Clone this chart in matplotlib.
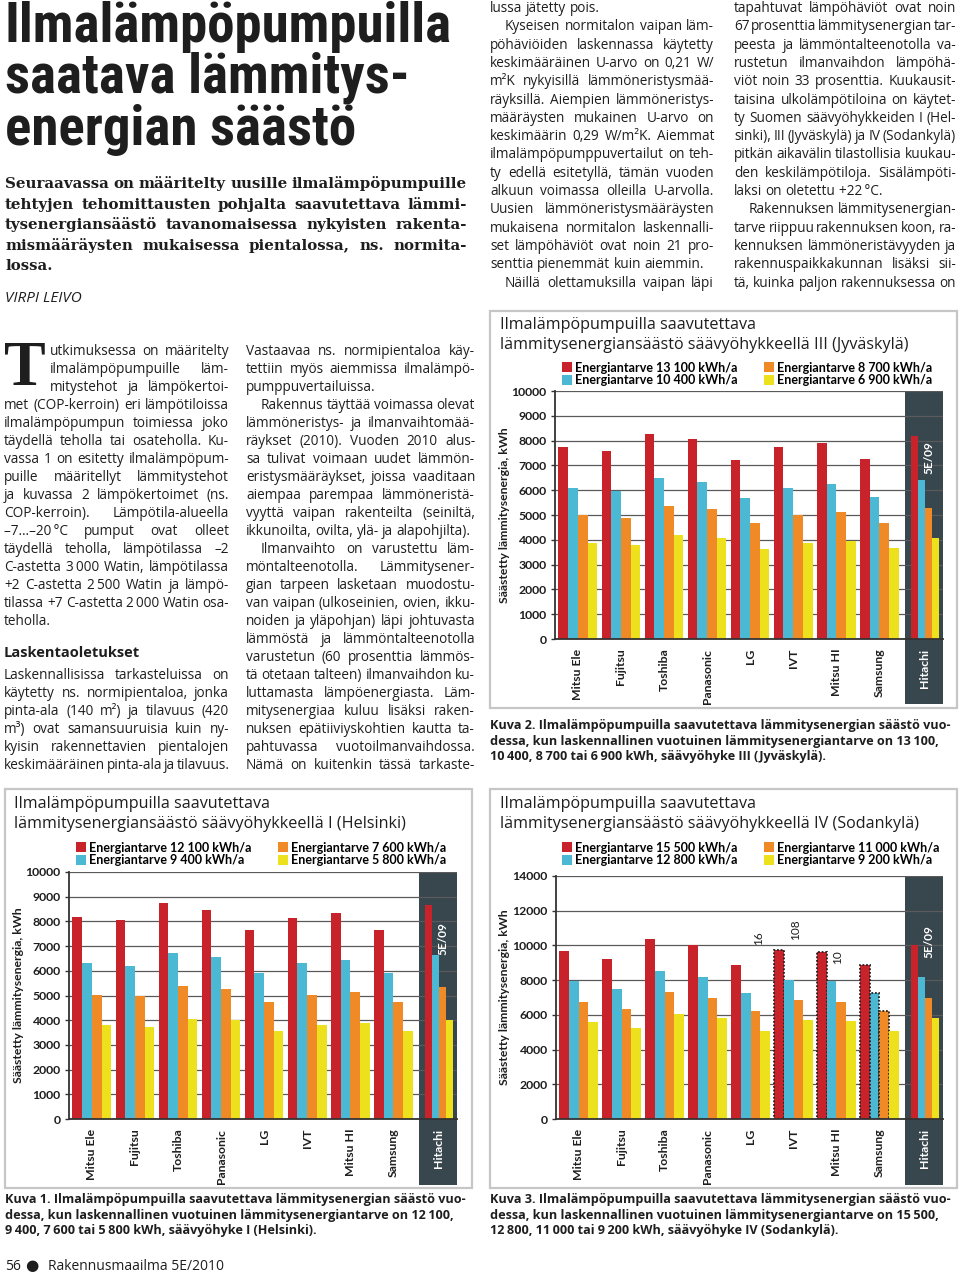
import numpy as np
import matplotlib
matplotlib.use("Agg")
import matplotlib.pyplot as plt
import matplotlib.transforms as mtransforms
from matplotlib import font_manager
from matplotlib.patches import Rectangle

# ---- data -------------------------------------------------------------
brands = ["Mitsu Ele", "Fujitsu", "Toshiba", "Panasonic", "LG", "IVT",
          "Mitsu HI", "Samsung", "Hitachi"]

# Kuva 1, Helsinki
hel_12100 = [8175, 8040, 8725, 8480, 7650, 8150, 8350, 7650, 8645]
hel_9400 = [6310, 6200, 6710, 6550, 5900, 6310, 6440, 5900, 6640]
hel_7600 = [5025, 4975, 5400, 5270, 4720, 5025, 5160, 4720, 5350]
hel_5800 = [3800, 3720, 4040, 3990, 3545, 3800, 3890, 3545, 3990]
hel_labels = ["Energiantarve 12 100 kWh/a", "Energiantarve 9 400 kWh/a",
              "Energiantarve 7 600 kWh/a", "Energiantarve 5 800 kWh/a"]

# Kuva 2, Jyväskylä
jyv_13100 = [7730, 7600, 8270, 8080, 7215, 7730, 7890, 7245, 8190]
jyv_10400 = [6070, 5985, 6510, 6350, 5680, 6095, 6230, 5720, 6400]
jyv_8700 = [5000, 4890, 5380, 5240, 4660, 5000, 5120, 4660, 5280]
jyv_6900 = [3865, 3810, 4175, 4080, 3620, 3880, 3950, 3650, 4080]
jyv_labels = ["Energiantarve 13 100 kWh/a", "Energiantarve 10 400 kWh/a",
              "Energiantarve 8 700 kWh/a", "Energiantarve 6 900 kWh/a"]

# Kuva 3, Sodankylä
sod_15500 = [9700, 9200, 10350, 10000, 8850, 9750, 9650, 8850, 10050]
sod_12800 = [7950, 7500, 8500, 8200, 7250, 8000, 7950, 7250, 8200]
sod_11000 = [6750, 6350, 7300, 7000, 6200, 6850, 6750, 6200, 6950]
sod_9200 = [5600, 5250, 6050, 5800, 5050, 5700, 5650, 5050, 5800]
sod_labels = ["Energiantarve 15 500 kWh/a", "Energiantarve 12 800 kWh/a",
              "Energiantarve 11 000 kWh/a", "Energiantarve 9 200 kWh/a"]
# stray marks printed in the Sodankylä chart: (x, y, text)
sod_notes = [(4.63, 10430, "16"), (5.49, 10890, "108"), (6.47, 9330, "10")]
# bars with a dotted outline (group, series)
sod_marked = [(5, 0), (6, 0), (7, 0), (7, 1), (7, 2)]

headline = ["Ilmalämpöpumpuilla", "saatava lämmitys-", "energian säästö"]
lead = ["Seuraavassa on määritelty uusille ilmalämpöpumpuille",
        "tehtyjen tehomittausten pohjalta saavutettava lämmi-",
        "tysenergiansäästö tavanomaisessa nykyisten rakenta-",
        "mismääräysten mukaisessa pientalossa, ns. normita-",
        "lossa."]

col1 = ["utkimuksessa on määritelty",
        "ilmalämpöpumpuille läm-",
        "mitystehot ja lämpökertoi-",
        "met (COP-kerroin) eri lämpötiloissa",
        "ilmalämpöpumpun toimiessa joko",
        "täydellä teholla tai osateholla. Ku-",
        "vassa 1 on esitetty ilmalämpöpum-",
        "puille määritellyt lämmitystehot",
        "ja kuvassa 2 lämpökertoimet (ns.",
        "COP-kerroin). Lämpötila-alueella",
        "–7…–20\u2009°C pumput ovat olleet",
        "täydellä teholla, lämpötilassa –2",
        "C-astetta 3\u2009000 Watin, lämpötilassa",
        "+2 C-astetta 2\u2009500 Watin ja lämpö-",
        "tilassa +7 C-astetta 2\u2009000 Watin osa-",
        "teholla."]
col1b = ["Laskennallisissa tarkasteluissa on",
         "käytetty ns. normipientaloa, jonka",
         "pinta-ala (140 m²) ja tilavuus (420",
         "m³) ovat samansuuruisia kuin ny-",
         "kyisin rakennettavien pientalojen",
         "keskimääräinen pinta-ala ja tilavuus."]
col2 = ["Vastaavaa ns. normipientaloa käy-",
        "tettiin myös aiemmissa ilmalämpö-",
        "pumppuvertailuissa.",
        ">Rakennus täyttää voimassa olevat",
        "lämmöneristys- ja ilmanvaihtomää-",
        "räykset (2010). Vuoden 2010 alus-",
        "sa tulivat voimaan uudet lämmön-",
        "eristysmääräykset, joissa vaaditaan",
        "aiempaa parempaa lämmöneristä-",
        "vyyttä vaipan rakenteilta (seiniltä,",
        "ikkunoilta, ovilta, ylä- ja alapohjilta).",
        ">Ilmanvaihto on varustettu läm-",
        "möntalteenotolla. Lämmitysener-",
        "gian tarpeen lasketaan muodostu-",
        "van vaipan (ulkoseinien, ovien, ikku-",
        "noiden ja yläpohjan) läpi johtuvasta",
        "lämmöstä ja lämmöntalteenotolla",
        "varustetun (60 prosenttia lämmös-",
        "tä otetaan talteen) ilmanvaihdon ku-",
        "luttamasta lämpöenergiasta. Läm-",
        "mitysenergiaa kuluu lisäksi raken-",
        "nuksen epätiiviyskohtien kautta ta-",
        "pahtuvassa vuotoilmanvaihdossa.",
        "Nämä on kuitenkin tässä tarkaste-"]
col3 = ["lussa jätetty pois.",
        ">Kyseisen normitalon vaipan läm-",
        "pöhäviöiden laskennassa käytetty",
        "keskimääräinen U-arvo on 0,21 W/",
        "m²K nykyisillä lämmöneristysmää-",
        "räyksillä. Aiempien lämmöneristys-",
        "määräysten mukainen U-arvo on",
        "keskimäärin 0,29 W/m²K. Aiemmat",
        "ilmalämpöpumppuvertailut on teh-",
        "ty edellä esitetyllä, tämän vuoden",
        "alkuun voimassa olleilla U-arvolla.",
        "Uusien lämmöneristysmääräysten",
        "mukaisena normitalon laskennalli-",
        "set lämpöhäviöt ovat noin 21 pro-",
        "senttia pienemmät kuin aiemmin.",
        ">Näillä olettamuksilla vaipan läpi"]
col4 = ["tapahtuvat lämpöhäviöt ovat noin",
        "67 prosenttia lämmitysenergian tar-",
        "peesta ja lämmöntalteenotolla va-",
        "rustetun ilmanvaihdon lämpöhä-",
        "viöt noin 33 prosenttia. Kuukausit-",
        "taisina ulkolämpötiloina on käytet-",
        "ty Suomen säävyöhykkeiden I (Hel-",
        "sinki), III (Jyväskylä) ja IV (Sodankylä)",
        "pitkän aikavälin tilastollisia kuukau-",
        "den keskilämpötiloja. Sisälämpöti-",
        "laksi on oletettu +22\u2009°C.",
        ">Rakennuksen lämmitysenergian-",
        "tarve riippuu rakennuksen koon, ra-",
        "kennuksen lämmöneristävyyden ja",
        "rakennuspaikkakunnan lisäksi sii-",
        "tä, kuinka paljon rakennuksessa on"]

cap1 = ["Kuva 1. Ilmalämpöpumpuilla saavutettava lämmitysenergian säästö vuo-",
        "dessa, kun laskennallinen vuotuinen lämmitysenergiantarve on 12\u2009100,",
        "9\u2009400, 7\u2009600 tai 5\u2009800 kWh, säävyöhyke I (Helsinki)."]
cap2 = ["Kuva 2. Ilmalämpöpumpuilla saavutettava lämmitysenergian säästö vuo-",
        "dessa, kun laskennallinen vuotuinen lämmitysenergiantarve on 13\u2009100,",
        "10\u2009400, 8\u2009700 tai 6\u2009900 kWh, säävyöhyke III (Jyväskylä)."]
cap3 = ["Kuva 3. Ilmalämpöpumpuilla saavutettava lämmitysenergian säästö vuo-",
        "dessa, kun laskennallinen vuotuinen lämmitysenergiantarve on 15\u2009500,",
        "12\u2009800, 11\u2009000 tai 9\u2009200 kWh, säävyöhyke IV (Sodankylä)."]

# ---- fonts / colours ----------------------------------------------------
_names = {f.name for f in font_manager.fontManager.ttflist}


def pick(*cands):
    return next((c for c in cands if c in _names), "DejaVu Sans")


HEAD = pick("Liberation Sans Narrow", "Roboto Condensed", "DejaVu Sans")
SANS = pick("Lato", "Open Sans", "DejaVu Sans")
TEXT = pick("Open Sans", "Lato", "DejaVu Sans")
SERIF = pick("DejaVu Serif", "Liberation Serif")
DROP = pick("Liberation Serif", "DejaVu Serif")

COLORS = ["#c8232b", "#4bb9d3", "#f08a26", "#ece11c"]
BAND = "#38464e"
INK = "#1e1e1e"

W, H = 960, 1274
fig = plt.figure(figsize=(W / 100, H / 100), dpi=100)
fig.patch.set_facecolor("white")
renderer = fig.canvas.get_renderer()


def fx(x):
    return x / W


def fy(y):
    return 1 - y / H


def text_px(x, y, s, **kw):
    return fig.text(fx(x), fy(y), s, **kw)


def width_of(s, **kw):
    t = text_px(0, 0, s, **kw)
    w = t.get_window_extent(renderer).width
    t.remove()
    return w


def justified(x0, x1, y, s, stretch=True, **kw):
    words = s.split(" ")
    texts = [text_px(0, y, w, va="baseline", **kw) for w in words]
    widths = [t.get_window_extent(renderer).width for t in texts]
    sp = width_of("a a", **kw) - width_of("aa", **kw)
    natural = sum(widths) + sp * (len(words) - 1)
    gap = sp
    if len(words) > 1 and stretch and natural > 0.7 * (x1 - x0):
        gap = max((x1 - x0 - sum(widths)) / (len(words) - 1), 0.45 * sp)
    x = x0
    for t, w in zip(texts, widths):
        t.set_x(fx(x))
        x += w + gap


def column(x0, x1, y0, dy, lines, first_indent=None, **kw):
    for i, s in enumerate(lines):
        left = x0
        if s.startswith(">"):
            s = s[1:]
            left = x0 + 15
        if first_indent and i < first_indent[0]:
            left = first_indent[1]
        # last line of a paragraph stays ragged
        ends_par = i + 1 < len(lines) and lines[i + 1].startswith(">")
        justified(left, x1, y0 + i * dy, s, stretch=not ends_par, **kw)


def draw_chart(panel, axbox, band_bottom, title_xy, title, legend_xy, series,
               labels, ymax, step, notes=(), marked=()):
    px0, py0, px1, py1 = panel
    fig.add_artist(Rectangle((fx(px0), fy(py1)), (px1 - px0) / W, (py1 - py0) / H,
                             transform=fig.transFigure, facecolor="white",
                             edgecolor="#c6c6c6", lw=1.6, zorder=-1))
    left, top, right, bottom = axbox
    ax = fig.add_axes([fx(left), fy(bottom), (right - left) / W, (bottom - top) / H])

    pos = np.arange(len(brands), dtype=float)
    pos[-1] = 8.19
    widths = np.full(len(brands), 0.225)
    widths[-1] = 0.16
    handles = []
    for k, (vals, col, lab) in enumerate(zip(series, COLORS, labels)):
        bars = ax.bar(pos + k * widths, vals, width=widths, align="edge",
                      color=col, zorder=3, label=lab)
        handles.append(bars)
    for g, k in marked:
        b = handles[k][g]
        b.set_edgecolor("#222222")
        b.set_linestyle((0, (1, 1)))
        b.set_linewidth(1.3)

    ax.set_xlim(-0.08, 8.93)
    ax.set_ylim(0, ymax)
    ax.set_yticks(np.arange(0, ymax + 1, step))
    ax.set_xticks(pos + 2 * widths)
    ax.set_xticklabels(brands, rotation=90, fontsize=8.8, fontweight="bold",
                       family=SANS, color=INK)
    ax.get_xticklabels()[-1].set_color("white")
    ax.tick_params(axis="x", length=0, pad=7)
    ax.tick_params(axis="y", length=3, width=1, color="#333", pad=3)
    for t in ax.get_yticklabels():
        t.set_fontsize(8.8)
        t.set_fontweight("bold")
        t.set_family(SANS)
        t.set_color(INK)
    ax.grid(axis="y", color="#5a5a5a", lw=0.9)
    ax.set_axisbelow(True)
    for s in ("top", "right"):
        ax.spines[s].set_visible(False)
    for s in ("left", "bottom"):
        ax.spines[s].set_color("#333")
        ax.spines[s].set_linewidth(1.3)
        ax.spines[s].set_zorder(4)

    below = (band_bottom - bottom) / (bottom - top)
    trans = mtransforms.blended_transform_factory(ax.transData, ax.transAxes)
    ax.add_patch(Rectangle((8.05, -below), 0.88, 1 + below, transform=trans,
                           facecolor=BAND, edgecolor="none", zorder=0.2,
                           clip_on=False))
    ax.text(8.6, 0.73 * ymax, "5E/09", rotation=90, ha="center", va="center",
            color="white", fontsize=8.5, fontweight="bold", family=SANS, zorder=5)
    for x, y, s in notes:
        ax.text(x, y, s, rotation=90, ha="center", va="center", fontsize=8.5,
                family=SANS, color=INK, zorder=5)

    ax.set_ylabel("Säästetty lämmitysenergia, kWh", fontsize=8.8,
                  fontweight="bold", family=SANS, color=INK)
    ax.yaxis.set_label_coords((title_xy[0] + 10 - left) / (right - left), 0.5)

    tx, ty = title_xy
    for i, line in enumerate(title):
        text_px(tx, ty + i * 20, line, fontsize=11.6, family=TEXT, color=INK,
                va="center", ha="left")

    lx, ly = legend_xy
    ax.legend(handles=handles, labels=labels, ncol=2, loc="center left",
              bbox_to_anchor=(fx(lx), fy(ly)), bbox_transform=fig.transFigure,
              frameon=False, handlelength=0.8, handleheight=0.8,
              handletextpad=0.25, columnspacing=2.1, labelspacing=0.08,
              borderpad=0, borderaxespad=0,
              prop={"family": SANS, "weight": "bold", "size": 9})
    return ax


# ---- headline and lead --------------------------------------------------
for line, y in zip(headline, [42, 93, 145]):
    text_px(5, y, line, fontsize=39.5, fontweight="bold", family=HEAD,
            color=INK, va="baseline")
for i, line in enumerate(lead):
    justified(5, 467, 188 + i * 20.6, line, fontsize=10.8, family=SERIF,
              fontweight="bold", color=INK)
text_px(5, 302, "VIRPI LEIVO", fontsize=11, style="italic", family=TEXT,
        color=INK, va="baseline")

# ---- body columns -------------------------------------------------------
body = dict(fontsize=9.8, family=TEXT, color=INK)
text_px(4, 385, "T", fontsize=45, fontweight="bold", family=DROP, color=INK,
        va="baseline")
column(4, 229, 355, 18, col1, first_indent=(3, 50), **body)
text_px(4, 657, "Laskentaoletukset", fontsize=10.5, fontweight="bold",
        family=TEXT, color=INK, va="baseline")
column(4, 229, 679, 18, col1b, **body)
column(246, 475, 355, 18, col2, **body)
column(490, 714, 12, 18.3, col3, **body)
column(734, 956, 12, 18.3, col4, **body)

# ---- charts -------------------------------------------------------------
draw_chart((490, 311, 957, 708), (555, 391, 943, 639), 704, (500, 325),
           ["Ilmalämpöpumpuilla saavutettava",
            "lämmitysenergiansäästö säävyöhykkeellä III (Jyväskylä)"],
           (562, 374), [jyv_13100, jyv_10400, jyv_8700, jyv_6900], jyv_labels,
           10000, 1000)
draw_chart((5, 789, 472, 1188), (69, 872, 457, 1119), 1185, (14, 804),
           ["Ilmalämpöpumpuilla saavutettava",
            "lämmitysenergiansäästö säävyöhykkeellä I (Helsinki)"],
           (76, 854), [hel_12100, hel_9400, hel_7600, hel_5800], hel_labels,
           10000, 1000)
draw_chart((490, 789, 957, 1188), (556, 876, 943, 1119), 1185, (500, 804),
           ["Ilmalämpöpumpuilla saavutettava",
            "lämmitysenergiansäästö säävyöhykkeellä IV (Sodankylä)"],
           (562, 854), [sod_15500, sod_12800, sod_11000, sod_9200], sod_labels,
           14000, 2000, notes=sod_notes, marked=sod_marked)

# ---- captions and footer ------------------------------------------------
cap = dict(fontsize=9.1, fontweight="bold", family=TEXT, color=INK,
           va="center", ha="left")
for i, line in enumerate(cap2):
    text_px(490, 726 + i * 15.2, line, **cap)
for i, line in enumerate(cap1):
    text_px(5, 1200 + i * 15.2, line, **cap)
for i, line in enumerate(cap3):
    text_px(490, 1200 + i * 15.2, line, **cap)

text_px(5, 1266, "56", fontsize=10, family=TEXT, color=INK, va="center")
text_px(25, 1266, "\u25cf", fontsize=11, family="DejaVu Sans", color=INK,
        va="center")
text_px(48, 1266, "Rakennusmaailma 5E/2010", fontsize=10, family=TEXT,
        color=INK, va="center")

fig.savefig("out.png", dpi=100)
